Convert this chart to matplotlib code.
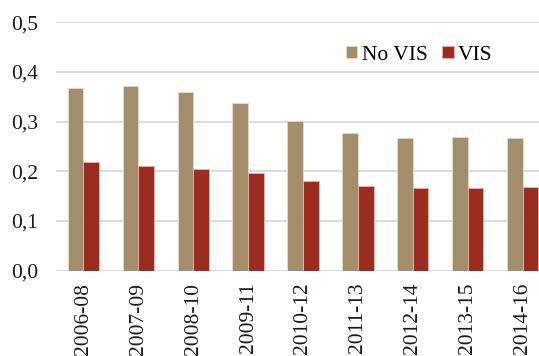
import matplotlib
matplotlib.use("Agg")
import matplotlib.pyplot as plt
import numpy as np

plt.rcParams['font.family'] = ['Liberation Serif', 'DejaVu Serif']

periods = ["2006-08", "2007-09", "2008-10", "2009-11", "2010-12",
           "2011-13", "2012-14", "2013-15", "2014-16"]
no_vis = [0.367, 0.371, 0.360, 0.337, 0.301, 0.277, 0.267, 0.270, 0.268]
vis = [0.219, 0.211, 0.205, 0.197, 0.181, 0.170, 0.166, 0.166, 0.168]
yticks = [0.0, 0.1, 0.2, 0.3, 0.4, 0.5]
ytick_labels = ["0,0", "0,1", "0,2", "0,3", "0,4", "0,5"]

tan = "#A48D6A"
red = "#9B2D20"

fig = plt.figure(figsize=(5.39, 3.56), dpi=100)
# axes box in figure fractions; the right edge runs past the canvas
left_px, right_px, top_px, bottom_px = 56, 550, 22.3, 270.7
W, H = 539, 356
ax = fig.add_axes([left_px / W, 1 - bottom_px / H,
                   (right_px - left_px) / W, (bottom_px - top_px) / H])

x = np.arange(len(periods))
bw = 0.285
ax.bar(x - bw / 2, no_vis, bw, color=tan, edgecolor="#E6DCCB", linewidth=0.6,
       label="No VIS", zorder=3)
ax.bar(x + bw / 2, vis, bw, color=red, edgecolor="#E2B9B2", linewidth=0.6,
       label="VIS", zorder=3)

ax.set_xlim(-0.5, len(periods) - 0.5)
ax.set_ylim(0, 0.5)
ax.set_yticks(yticks)
ax.set_yticklabels(ytick_labels)
ax.set_xticks(x)
ax.set_xticklabels(periods, rotation=90)
ax.tick_params(axis="both", length=0, labelsize=15.5, colors="#1a1a1a")
ax.tick_params(axis="y", pad=13)
ax.tick_params(axis="x", pad=8.5)
ax.grid(axis="y", color="#D9D9D9", linewidth=1.3, zorder=0)
ax.set_axisbelow(True)
for s in ax.spines.values():
    s.set_visible(False)

leg = ax.legend(loc="center left",
                bbox_to_anchor=((346 - left_px) / (right_px - left_px),
                                (bottom_px - 55) / (bottom_px - top_px)),
                ncol=2, frameon=False, fontsize=15.5, handlelength=0.52,
                handleheight=0.52, handletextpad=0.2, columnspacing=0.7,
                borderaxespad=0, borderpad=0)

fig.savefig("out.png", dpi=100, facecolor="white")
